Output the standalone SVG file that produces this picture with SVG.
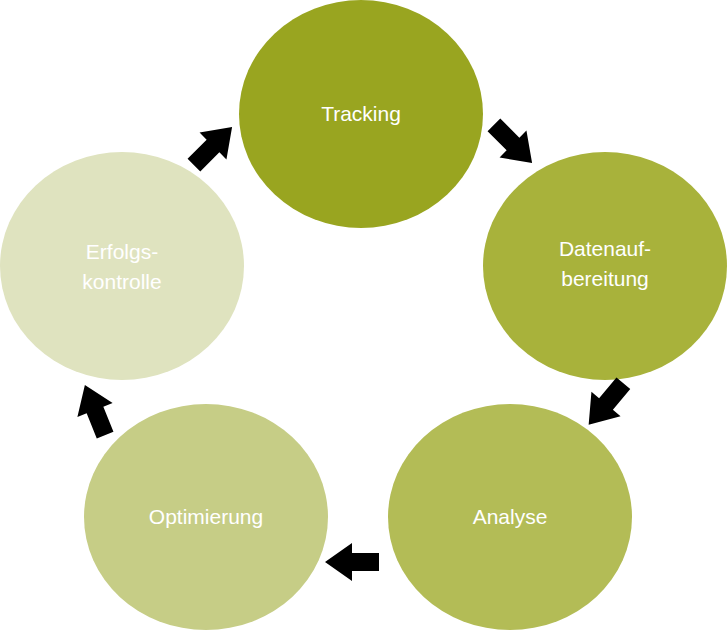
<svg xmlns="http://www.w3.org/2000/svg" width="727" height="630" viewBox="0 0 727 630">
<style>
text{font-family:"Liberation Sans",Arial,sans-serif;font-size:21px;fill:#fff;text-anchor:middle}
.a{fill:#000}
</style>
<defs><path id="arr" d="M-27,-9 L0,-9 L0,-19 L27,0 L0,19 L0,9 L-27,9 Z"/></defs>
<rect width="727" height="630" fill="#fff"/>
<g id="tracking"><ellipse cx="361" cy="114" rx="122" ry="114" fill="#99a520"/><text x="361" y="121">Tracking</text></g>
<g id="datenaufbereitung"><ellipse cx="605" cy="266" rx="122" ry="114" fill="#a8b23b"/><text x="605" y="256">Datenauf-</text><text x="605" y="286">bereitung</text></g>
<g id="analyse"><ellipse cx="510" cy="517" rx="122" ry="113" fill="#b3bc56"/><text x="510" y="524">Analyse</text></g>
<g id="optimierung"><ellipse cx="206" cy="517" rx="122" ry="113" fill="#c6cd86"/><text x="206" y="524">Optimierung</text></g>
<g id="erfolgskontrolle"><ellipse cx="122" cy="266" rx="122" ry="114" fill="#dfe3bf"/><text x="122" y="259">Erfolgs-</text><text x="122" y="289">kontrolle</text></g>
<g id="connectors" class="a">
<use href="#arr" transform="translate(213,146) rotate(-45)"/>
<use href="#arr" transform="translate(513,144) rotate(45)"/>
<use href="#arr" transform="translate(606,404) rotate(130)"/>
<use href="#arr" transform="translate(352,562) rotate(180)"/>
<use href="#arr" transform="translate(95,410) rotate(-112)"/>
</g>
</svg>
